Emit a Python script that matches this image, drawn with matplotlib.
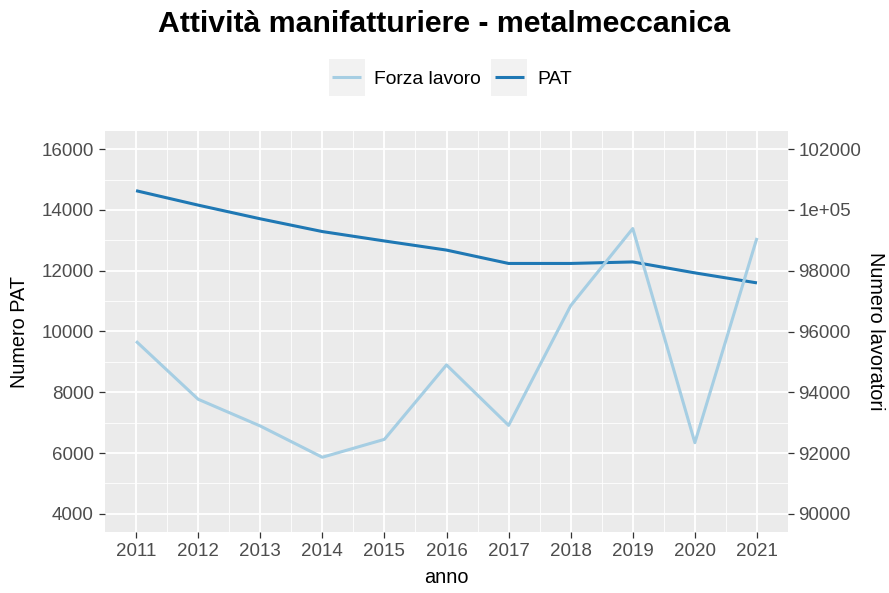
import matplotlib
matplotlib.use('Agg')
import matplotlib.pyplot as plt
from matplotlib.patches import Rectangle
from matplotlib.ticker import FixedLocator, FuncFormatter

### DATA
anni = [2011, 2012, 2013, 2014, 2015, 2016, 2017, 2018, 2019, 2020, 2021]
pat = [14635, 14160, 13710, 13290, 12980, 12680, 12240, 12240, 12290, 11930, 11600]
lavoratori = [95680, 93770, 92890, 91860, 92450, 94900, 92910, 96850, 99390, 92340, 99080]
pat_ticks = [4000, 6000, 8000, 10000, 12000, 14000, 16000]
lav_ticks = [90000, 92000, 94000, 96000, 98000, 100000, 102000]
offset = 86000

### STYLE
plt.rcParams['font.family'] = ['Liberation Sans', 'DejaVu Sans']
c_forza = '#a6cee3'
c_pat = '#1f78b4'
grigio = '#4d4d4d'

W, H = 889, 593
fig = plt.figure(figsize=(W / 100, H / 100), dpi=100)
ax = fig.add_axes([105 / W, (H - 532) / H, (788 - 105) / W, (532 - 131) / H])
ax.set_facecolor('#ebebeb')
for s in ax.spines.values():
	s.set_visible(False)

ax.set_xlim(2010.5, 2021.5)
ax.set_ylim(3400, 16600)
ax.set_xticks(anni)
ax.set_xticks([a + 0.5 for a in anni[:-1]], minor=True)
ax.set_yticks(pat_ticks)
ax.set_yticks([t + 1000 for t in pat_ticks[:-1]], minor=True)
ax.grid(which='major', color='white', lw=1.3)
ax.grid(which='minor', color='white', lw=0.6)
ax.set_axisbelow(True)
ax.tick_params(which='major', length=4, width=0.9, color='#333333', labelsize=13.5, labelcolor=grigio, pad=4)
ax.tick_params(which='minor', length=0)
ax.set_xlabel('anno', fontsize=14.3, labelpad=6)
ax.set_ylabel('Numero PAT', fontsize=14.3, labelpad=9)

### LINES
l_pat, = ax.plot(anni, pat, color=c_pat, lw=2.2, solid_capstyle='butt', label='PAT')

ax2 = ax.twinx()
for s in ax2.spines.values():
	s.set_visible(False)
ax2.set_ylim(3400 + offset, 16600 + offset)
ax2.yaxis.set_major_locator(FixedLocator(lav_ticks))
ax2.yaxis.set_major_formatter(FuncFormatter(lambda v, p: '1e+05' if v == 100000 else '%d' % v))
ax2.tick_params(length=4, width=0.9, color='#333333', labelsize=13.5, labelcolor=grigio, pad=3.5)
ax2.set_ylabel('Numero lavoratori', fontsize=14.3, rotation=-90, labelpad=17)
l_forza, = ax2.plot(anni, lavoratori, color=c_forza, lw=2.2, solid_capstyle='butt', label='Forza lavoro')

### TITLE / LEGEND
fig.text(0.5, 1 - 24 / H, 'Attività manifatturiere - metalmeccanica', ha='center', va='center',
	fontsize=21.8, fontweight='bold')
leg = fig.legend([l_forza, l_pat], ['Forza lavoro', 'PAT'], loc='center', ncol=2,
	bbox_to_anchor=(452 / W, 1 - 79 / H), frameon=False, fontsize=13.9,
	handlelength=1.5, handletextpad=0.7, columnspacing=0.7)

fig.canvas.draw()
inv = fig.transFigure.inverted()
for h in leg.legend_handles:
	bb = h.get_window_extent()
	cx, cy = (bb.x0 + bb.x1) / 2, (bb.y0 + bb.y1) / 2
	(x0, y0) = inv.transform((cx - 18, cy - 18.5))
	(x1, y1) = inv.transform((cx + 18, cy + 18.5))
	fig.patches.append(Rectangle((x0, y0), x1 - x0, y1 - y0, transform=fig.transFigure,
		facecolor='#f2f2f2', edgecolor='none', zorder=-1))

fig.savefig('out.png', dpi=100)
